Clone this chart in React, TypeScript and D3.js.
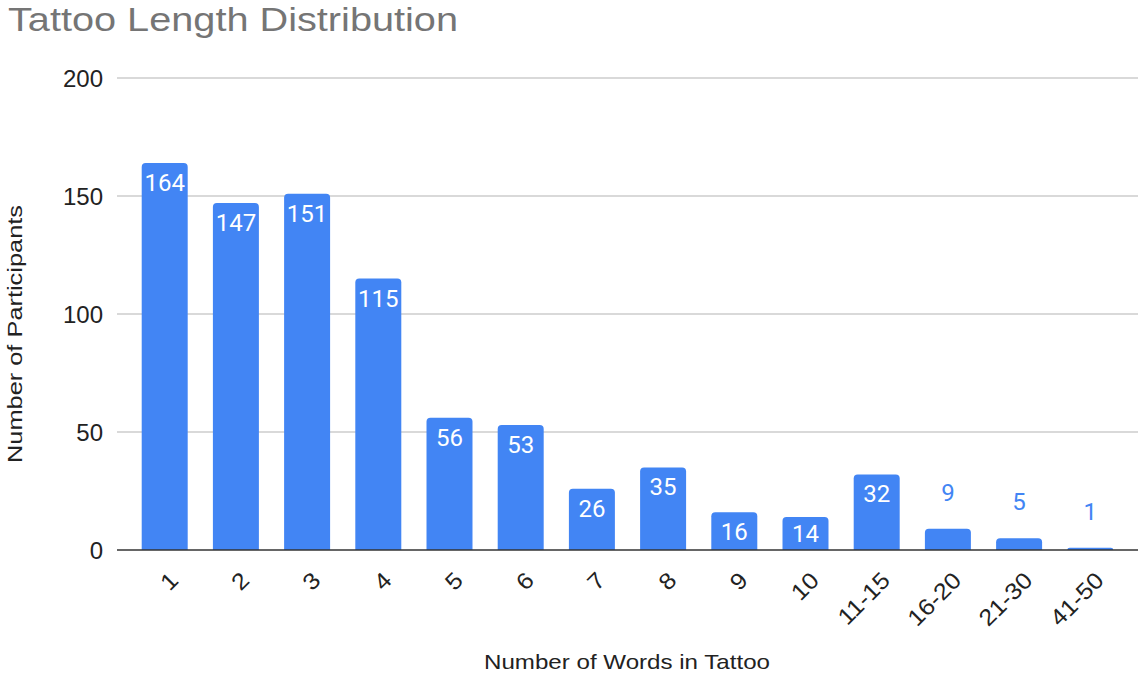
import React from 'react';
import * as d3 from 'd3';

const categories = ['1', '2', '3', '4', '5', '6', '7', '8', '9', '10', '11-15', '16-20', '21-30', '41-50'];
const participants = [164, 147, 151, 115, 56, 53, 26, 35, 16, 14, 32, 9, 5, 1];
const yTicks = [0, 50, 100, 150, 200];

const W = 1140;
const H = 674;
const margin = { top: 78, right: 2, bottom: 124, left: 117 };
const blue = '#4285f4';
const labelFont = 'Roboto, sans-serif';
const axisFont = '"Liberation Sans", Arial, sans-serif';

// rect with rounded top corners only
const topRounded = (x: number, y: number, w: number, h: number, r: number) => {
  const rr = Math.min(r, h, w / 2);
  return `M${x},${y + h}V${y + rr}Q${x},${y} ${x + rr},${y}H${x + w - rr}Q${x + w},${y} ${x + w},${y + rr}V${y + h}Z`;
};

const App = () => {
  const x = d3
    .scaleBand()
    .domain(categories)
    .range([margin.left, W - margin.right])
    .paddingInner(0.354)
    .paddingOuter(0.347);

  const y = d3
    .scaleLinear()
    .domain([0, 200])
    .range([H - margin.bottom, margin.top]);

  const data = categories.map((c, i) => ({ label: c, value: participants[i] }));

  return (
    <svg width={W} height={H} style={{ position: 'absolute', left: 0, top: 0, background: '#fff' }}>
      <text x={8} y={31} fontFamily={axisFont} fontSize={34} fill="#757575" textLength={450} lengthAdjust="spacingAndGlyphs">
        Tattoo Length Distribution
      </text>

      {/* gridlines + y tick labels */}
      {yTicks.map((t) => (
        <g key={t}>
          {t > 0 && (
            <line x1={margin.left} x2={W - margin.right} y1={y(t)} y2={y(t)} stroke="#cccccc" strokeWidth={1.3} />
          )}
          <text x={103} y={y(t)} dy="0.36em" textAnchor="end" fontFamily={axisFont} fontSize={24} fill="#222">
            {t}
          </text>
        </g>
      ))}

      {/* bars */}
      {data.map((d) => {
        const bx = x(d.label)!;
        const by = y(d.value);
        const bh = y(0) - by;
        const cx = bx + x.bandwidth() / 2;
        const inside = bh > 28;
        const ly = inside ? Math.min(by + 28, y(0) - 8) : by - 28;
        return (
          <g key={d.label}>
            <path d={topRounded(bx, by, x.bandwidth(), bh, 4)} fill={blue} />
            <text
              x={cx}
              y={ly}
              textAnchor="middle"
              fontFamily={labelFont}
              fontSize={24}
              fill={inside ? '#fff' : blue}
            >
              {d.value}
            </text>
          </g>
        );
      })}

      {/* baseline */}
      <line x1={margin.left} x2={W - margin.right} y1={y(0)} y2={y(0)} stroke="#333" strokeWidth={1.5} />

      {/* x tick labels */}
      {categories.map((c) => {
        const cx = x(c)! + x.bandwidth() / 2 + 9;
        const ty = y(0) + 26;
        return (
          <text
            key={c}
            transform={`translate(${cx},${ty}) rotate(-45) scale(1.1,1)`}
            textAnchor="end"
            dy="0.36em"
            fontFamily={axisFont}
            fontSize={23}
            fill="#222"
          >
            {c}
          </text>
        );
      })}

      <text x={484} y={669} fontFamily={axisFont} fontSize={21} fill="#222" textLength={286} lengthAdjust="spacingAndGlyphs">
        Number of Words in Tattoo
      </text>
      <text
        transform={`translate(22,463) rotate(-90)`}
        fontFamily={axisFont}
        fontSize={21}
        fill="#222"
        textLength={258}
        lengthAdjust="spacingAndGlyphs"
      >
        Number of Participants
      </text>
    </svg>
  );
};

export default App;
